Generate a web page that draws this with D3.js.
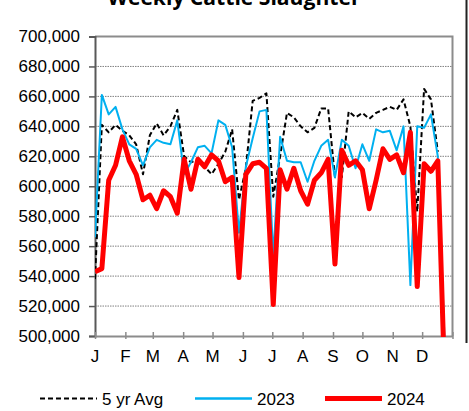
<!DOCTYPE html>
<html>
<head>
<meta charset="utf-8">
<script src="https://cdn.jsdelivr.net/npm/d3@7"></script>
<style>
  body { margin: 0; background: #fff; }
  svg { display: block; font-family: "Liberation Sans", Arial, sans-serif; }
</style>
</head>
<body>
<div id="chart"></div>
<script>
// weekly slaughter, thousand head
var avg5yr = [538, 641, 636, 641, 637, 634, 628, 608, 634, 642, 634, 640, 651, 620, 616, 618, 613, 608, 615, 623,
    638, 591, 612, 657, 659, 662, 593, 620, 649, 646, 640, 636, 639, 652, 652, 606, 606, 650, 646, 649,
    645, 649, 651, 653, 651, 658, 640, 583, 665, 658, 623];
var y2023 = [566, 661, 648, 653, 638, 628, 625, 614, 626, 631, 629, 628, 644, 608, 616, 626, 627, 622, 644, 641,
    626, 569, 613, 632, 650, 651, 553, 633, 617, 616, 616, 603, 617, 627, 631, 606, 631, 627, 612, 628,
    617, 638, 636, 637, 624, 640, 534, 640, 639, 648, 620, 495];
var y2024 = [543, 545, 604, 614, 633, 617, 608, 591, 594, 585, 597, 593, 582, 618, 598, 618, 613, 621, 617, 603,
    606, 539, 608, 615, 616, 612, 521, 611, 598, 612, 597, 588, 604, 609, 618, 548, 624, 614, 617, 611,
    585, 604, 625, 618, 621, 609, 636, 533, 615, 610, 617, 470];
var y_ticks = [500, 520, 540, 560, 580, 600, 620, 640, 660, 680, 700];
var month_labels = ['J', 'F', 'M', 'A', 'M', 'J', 'J', 'A', 'S', 'O', 'N', 'D'];

var chart_width = 469;
var chart_height = 411;
var plot_left = 95, plot_right = 452.5, plot_top = 36.5, plot_bottom = 336;

var svg = d3.select('#chart')
    .append('svg')
    .attr('width', chart_width)
    .attr('height', chart_height);

var year_start = new Date(Date.UTC(2023, 0, 1));
var year_end = new Date(Date.UTC(2024, 0, 1));

var x_scale = d3.scaleUtc()
    .domain([year_start, year_end])
    .range([plot_left, plot_right]);

var y_scale = d3.scaleLinear()
    .domain([500, 700])
    .range([plot_bottom, plot_top]);

function week(i) {
    return d3.utcDay.offset(year_start, 7 * i);
}

// title, mostly cut off at the top
svg.append('text')
    .attr('x', 234)
    .attr('y', 5)
    .attr('text-anchor', 'middle')
    .attr('font-family', '"Open Sans", "Noto Sans", sans-serif')
    .attr('font-weight', 'bold')
    .attr('font-size', 21)
    .attr('textLength', 253)
    .attr('lengthAdjust', 'spacingAndGlyphs')
    .text('Weekly Cattle Slaughter');

// dotted gridlines
svg.append('g')
    .selectAll('line')
    .data(y_ticks.slice(1, -1))
    .enter()
    .append('line')
    .attr('x1', plot_left)
    .attr('x2', plot_right)
    .attr('y1', function (d) { return y_scale(d); })
    .attr('y2', function (d) { return y_scale(d); })
    .attr('stroke', '#808080')
    .attr('stroke-width', 1)
    .attr('stroke-dasharray', '1.5,1');

// top and right border
svg.append('path')
    .attr('d', 'M' + plot_left + ',' + plot_top + 'H' + plot_right + 'V' + plot_bottom)
    .attr('fill', 'none')
    .attr('stroke', '#8c8c8c')
    .attr('stroke-width', 2);

// y axis
var y_axis = d3.axisLeft(y_scale)
    .tickValues(y_ticks)
    .tickSize(6)
    .tickPadding(9)
    .tickFormat(function (d) { return d3.format(',')(d * 1000); });

var gy = svg.append('g')
    .attr('transform', 'translate(' + plot_left + ',0)')
    .call(y_axis);
gy.select('.domain').attr('stroke', '#595959').attr('stroke-width', 2);
gy.selectAll('.tick line').attr('stroke', '#595959').attr('stroke-width', 1.5);
gy.selectAll('text')
    .attr('font-size', 17)
    .attr('fill', '#000');

// x axis, ticks at month starts crossing the axis
var x_axis = d3.axisBottom(x_scale)
    .ticks(d3.utcMonth.every(1))
    .tickSize(3)
    .tickSizeOuter(0)
    .tickFormat('');

var gx = svg.append('g')
    .attr('transform', 'translate(0,' + plot_bottom + ')')
    .call(x_axis);
gx.select('.domain').attr('stroke', '#8c8c8c').attr('stroke-width', 2);
gx.selectAll('.tick line')
    .attr('y1', -4)
    .attr('stroke', '#8c8c8c')
    .attr('stroke-width', 1.5);

svg.append('g')
    .selectAll('text')
    .data(d3.utcMonths(year_start, year_end))
    .enter()
    .append('text')
    .attr('x', function (d) { return x_scale(d); })
    .attr('y', 361.5)
    .attr('text-anchor', 'middle')
    .attr('font-size', 17)
    .text(function (d, i) { return month_labels[i]; });

// clip lines to the plot area
svg.append('clipPath')
    .attr('id', 'plot')
    .append('rect')
    .attr('x', plot_left)
    .attr('y', plot_top)
    .attr('width', plot_right - plot_left)
    .attr('height', plot_bottom - plot_top + 1);

var line = d3.line()
    .x(function (d, i) { return x_scale(week(i)); })
    .y(function (d) { return y_scale(d); });

var series = [
    { values: avg5yr, color: '#000', width: 2, dash: '5,3' },
    { values: y2023, color: '#00B0F0', width: 2, dash: null },
    { values: y2024, color: '#FF0000', width: 5, dash: null }
];

svg.append('g')
    .attr('clip-path', 'url(#plot)')
    .selectAll('path')
    .data(series)
    .enter()
    .append('path')
    .attr('d', function (d) { return line(d.values); })
    .attr('fill', 'none')
    .attr('stroke', function (d) { return d.color; })
    .attr('stroke-width', function (d) { return d.width; })
    .attr('stroke-dasharray', function (d) { return d.dash; })
    .attr('stroke-linejoin', 'round');

// legend
var legend = [
    { name: '5 yr Avg', x: 40, color: '#000', width: 2, dash: '5,3' },
    { name: '2023', x: 195, color: '#00B0F0', width: 2.5, dash: null },
    { name: '2024', x: 325, color: '#FF0000', width: 5, dash: null }
];

var lg = svg.append('g')
    .selectAll('g')
    .data(legend)
    .enter()
    .append('g');

lg.append('line')
    .attr('x1', function (d) { return d.x; })
    .attr('x2', function (d) { return d.x + 57; })
    .attr('y1', 398.5)
    .attr('y2', 398.5)
    .attr('stroke', function (d) { return d.color; })
    .attr('stroke-width', function (d) { return d.width; })
    .attr('stroke-dasharray', function (d) { return d.dash; });

lg.append('text')
    .attr('x', function (d) { return d.x + 62; })
    .attr('y', 404.5)
    .attr('font-size', 17)
    .text(function (d) { return d.name; });

// edge of the outer chart frame on the right
svg.append('line')
    .attr('x1', 466.5)
    .attr('x2', 466.5)
    .attr('y1', 0)
    .attr('y2', 343)
    .attr('stroke', '#222')
    .attr('stroke-width', 2);
</script>
</body>
</html>
